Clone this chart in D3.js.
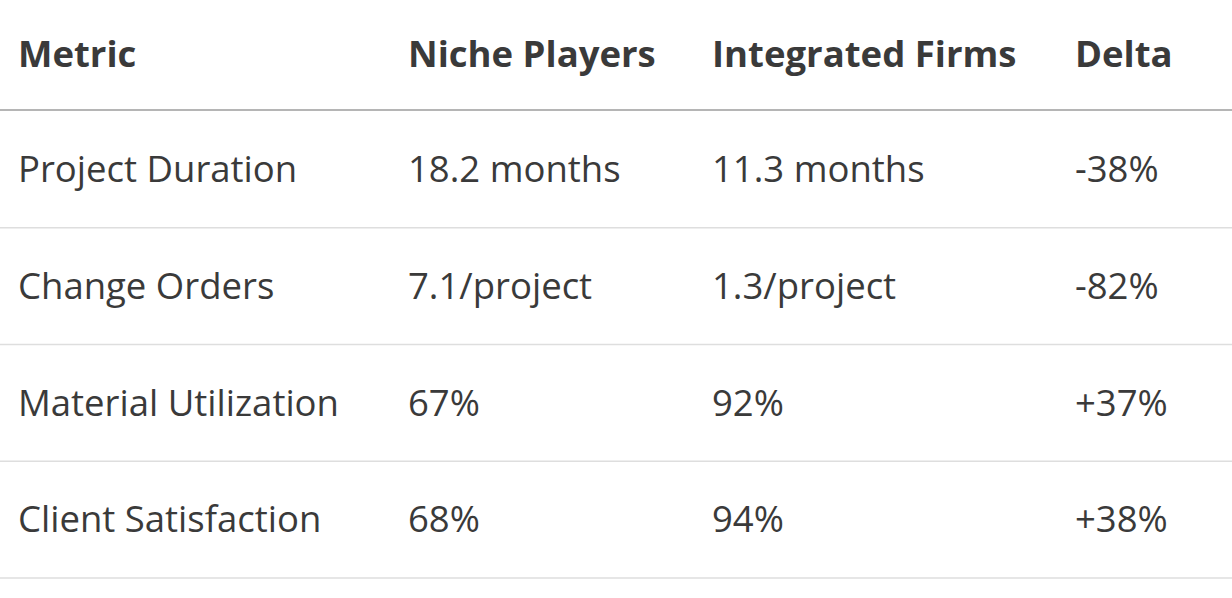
<!DOCTYPE html>
<html><head><meta charset="utf-8">
<script src="https://cdn.jsdelivr.net/npm/d3@7"></script>
<style>body{margin:0;background:#fff}svg{display:block}</style>
</head><body>
<script>
const headers = ["Metric","Niche Players","Integrated Firms","Delta"];
const metrics = ["Project Duration","Change Orders","Material Utilization","Client Satisfaction"];
const niche = ["18.2 months","7.1/project","67%","68%"];
const integrated = ["11.3 months","1.3/project","92%","94%"];
const delta = ["-38%","-82%","+37%","+38%"];

const W=1232,H=598;
const svg=d3.select("body").append("svg").attr("width",W).attr("height",H);
const font="'Open Sans','Noto Sans',sans-serif";
const colX=d3.scaleOrdinal().domain(d3.range(4)).range([18,408,712,1075]);
const rowY=d3.scaleBand().domain(d3.range(metrics.length)).range([111,578]);
const rows=metrics.map((m,i)=>[m,niche[i],integrated[i],delta[i]]);

svg.selectAll("text.h").data(headers).join("text").attr("class","h")
 .attr("x",(d,i)=>colX(i)).attr("y",54).attr("dy","0.35em")
 .attr("font-family",font).attr("font-weight",700).attr("font-size",36.5)
 .attr("fill","#3a3a3a").text(d=>d);
svg.append("line").attr("x1",0).attr("x2",W).attr("y1",110).attr("y2",110)
 .attr("stroke","#b5b5b5").attr("stroke-width",2);

const g=svg.selectAll("g.r").data(rows).join("g").attr("class","r");
g.selectAll("text").data(d=>d).join("text")
 .attr("x",(d,i)=>colX(i))
 .attr("font-family",font).attr("font-size",36.5).attr("fill","#3a3a3a").text(d=>d);
g.each(function(d,i){
  const y=rowY(i), h=rowY.bandwidth();
  d3.select(this).selectAll("text").attr("y",y+h/2).attr("dy","0.35em");
  d3.select(this).append("line").attr("x1",0).attr("x2",W).attr("y1",y+h).attr("y2",y+h)
   .attr("stroke","#dedede").attr("stroke-width",1.5);
});
</script>
</body></html>
